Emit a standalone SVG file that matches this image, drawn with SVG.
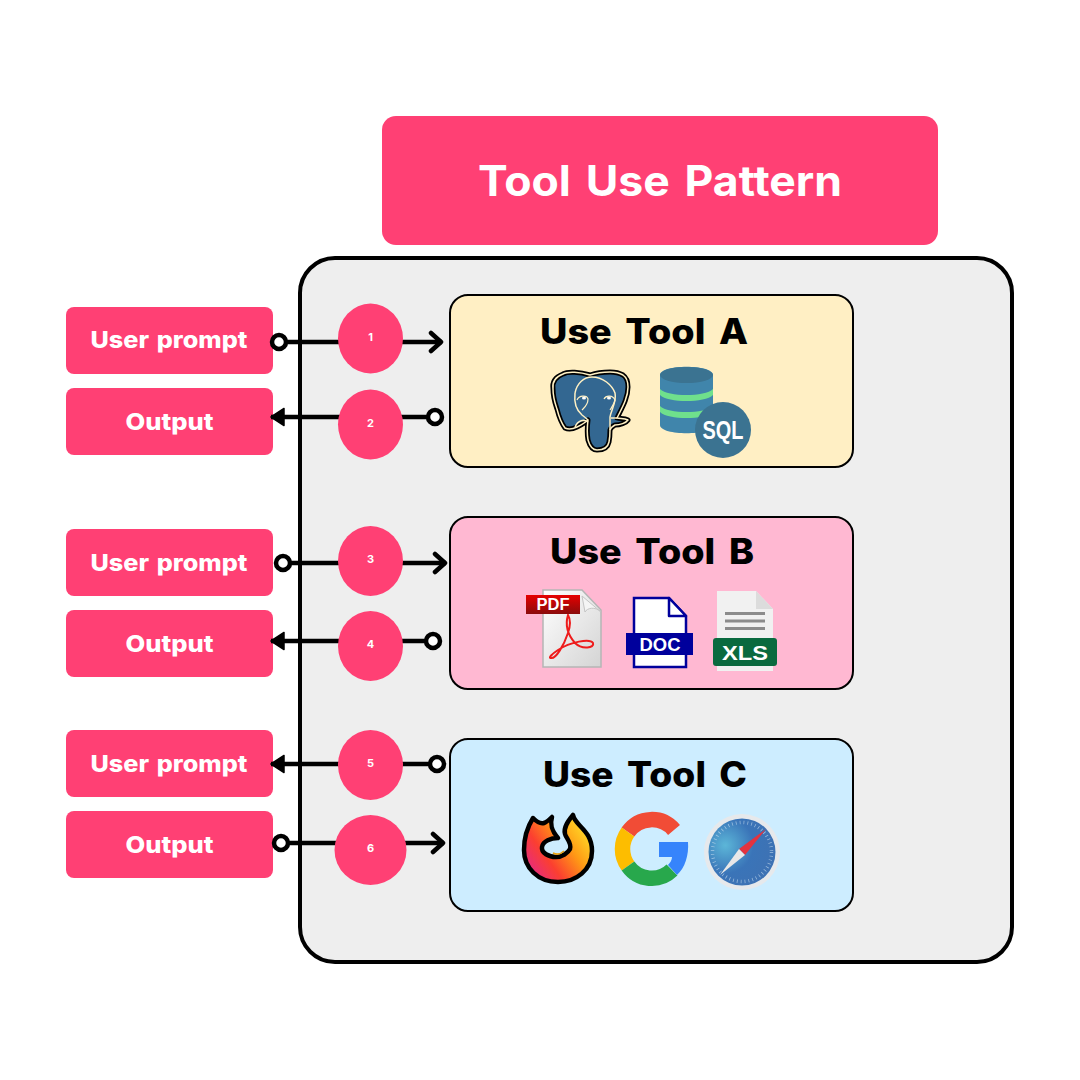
<svg xmlns="http://www.w3.org/2000/svg" width="1080" height="1080" viewBox="0 0 1080 1080">
<defs>
<marker id="open" markerUnits="userSpaceOnUse" markerWidth="20" markerHeight="24" refX="16" refY="12" orient="auto"><path d="M5 3 L15 12 L5 21" fill="none" stroke="#000" stroke-width="4.500" stroke-linecap="round" stroke-linejoin="round"/></marker>
<marker id="solid" markerUnits="userSpaceOnUse" markerWidth="20" markerHeight="24" refX="16" refY="12" orient="auto"><path d="M3 3.500 L16 12 L3 20.500 Z" fill="#000" stroke="#000" stroke-width="1.500" stroke-linejoin="round"/></marker>
<linearGradient id="fox" x1="0" y1="0.900" x2="1" y2="0.200"><stop offset="0" stop-color="#e0249a"/><stop offset="0.350" stop-color="#fb3f30"/><stop offset="0.650" stop-color="#ff9a15"/><stop offset="1" stop-color="#ffe62a"/></linearGradient>
<radialGradient id="saf" cx="0.250" cy="0.400" r="0.700"><stop offset="0" stop-color="#5cb6d8"/><stop offset="0.600" stop-color="#3a74b8"/><stop offset="1" stop-color="#3d72b4"/></radialGradient>
<linearGradient id="pdfdoc" x1="0" y1="0" x2="1" y2="1"><stop offset="0" stop-color="#fff"/><stop offset="1" stop-color="#d4d4d4"/></linearGradient>
<linearGradient id="pdfbar" x1="0" y1="0" x2="0" y2="1"><stop offset="0" stop-color="#e60000"/><stop offset="1" stop-color="#8a0c0c"/></linearGradient>
</defs>
<style>
.pink{fill:#ff4074}
.t{font-family:"Inter","Liberation Sans",sans-serif;text-anchor:middle}
.btn{font-size:23px;font-weight:800;fill:#fff;word-spacing:2px}
.num{font-size:11px;font-weight:700;fill:#fff}
.head{font-size:35px;font-weight:800;fill:#000;word-spacing:5px}
.panel{stroke:#000;stroke-width:2}
.wire{fill:none;stroke:#000;stroke-width:4.500}
.ring{fill:#fff;stroke:#000;stroke-width:4.500}
.ic{font-family:"Liberation Sans",sans-serif;font-weight:700;text-anchor:middle}
</style>

<g id="container"><rect x="300" y="258" width="712" height="704" rx="35" fill="#eeeeee" stroke="#000" stroke-width="4"/></g>

<g id="title"><rect class="pink" x="382" y="116" width="556" height="129" rx="14"/><text class="t" x="660" y="196" font-size="42" font-weight="700" fill="#fff" word-spacing="4" textLength="364" lengthAdjust="spacingAndGlyphs">Tool Use Pattern</text></g>

<g id="tool-a">
<rect class="panel" x="450" y="295" width="403" height="172" rx="18" fill="#ffefc4"/>
<text class="t head" x="644" y="344" textLength="208" lengthAdjust="spacingAndGlyphs">Use Tool A</text>
<g id="postgres-icon">
<path d="M590 375 C580 372 568 371 563 374 C555 377 552 382 553 389 C553 398 555 403 557 409 C559 417 562 424 565 428 C569 430 573 429 577 427 C581 425 585 423 588 420 C587 428 587 434 588 440 C590 447 593 450 597 450 C604 450 608 447 609 442 C610 437 610 433 610 430 C611 427 613 426 615 425 C620 425 626 423 628 420 C624 418 620 419 617 418 C622 408 628 398 628 387 C628 381 626 377 623 375 C618 372 614 372 610 372 C603 372 596 373 590 375 Z" fill="#336791" stroke="#000" stroke-width="5" stroke-linejoin="round"/>
<path d="M590 375 C580 372 568 371 563 374 C555 377 552 382 553 389 C553 398 555 403 557 409 C559 417 562 424 565 428 C569 430 573 429 577 427 C581 425 585 423 588 420 C587 428 587 434 588 440 C590 447 593 450 597 450 C604 450 608 447 609 442 C610 437 610 433 610 430 C611 427 613 426 615 425 C620 425 626 423 628 420 C624 418 620 419 617 418 C622 408 628 398 628 387 C628 381 626 377 623 375 C618 372 614 372 610 372 C603 372 596 373 590 375 Z" fill="none" stroke="#fff1c4" stroke-width="1.500" stroke-linejoin="round"/>
<path d="M575 393 C577 383 584 377 592 377 C603 377 612 385 615 393 M575 393 C574 402 576 410 582 415 C586 418 588 420 588 420 M615 393 C617 402 611 410 610 417 C610 422 610 428 610 430 M575 427 C578 420 584 419 588 422 M611 418 L617 418" fill="none" stroke="#fff1c4" stroke-width="1.500"/>
<path d="M577 400 C579 395 587 395 588 399 C588 405 584 408 582 410 M604 399 C606 395 613 395 615 400 C614 404 612 407 610 410" fill="none" stroke="#fff1c4" stroke-width="1.200"/>
<ellipse cx="584" cy="398" rx="2" ry="1.600" fill="#fff"/><ellipse cx="609" cy="398" rx="2" ry="1.600" fill="#fff"/>
</g>
<g id="sql-icon">
<path d="M660 375 C660 364 713 364 713 375 V425 C713 436 660 436 660 425 Z" fill="#4085ab"/>
<ellipse cx="686.500" cy="375" rx="26.500" ry="8" fill="#3b7391"/>
<path d="M660 389 C668 397 705 397 713 389 V395 C705 403 668 403 660 395 Z M660 406 C668 414 705 414 713 406 V412 C705 420 668 420 660 412 Z" fill="#6fe08c"/>
<circle cx="723" cy="430" r="28" fill="#3b7391"/>
<text class="ic" x="723" y="439" font-size="25" fill="#fff" textLength="41" lengthAdjust="spacingAndGlyphs">SQL</text>
</g>
</g>

<g id="tool-b">
<rect class="panel" x="450" y="517" width="403" height="172" rx="18" fill="#ffb8d2"/>
<text class="t head" x="652" y="564" textLength="204" lengthAdjust="spacingAndGlyphs">Use Tool B</text>
<g id="pdf-icon">
<path d="M543 590 H582 L601 610 V667 H543 Z" fill="url(#pdfdoc)" stroke="#b5b5b5" stroke-width="1.500"/>
<path d="M582 596 L601 612 C595 606 587 608 585 612 Z" fill="#f4f4f4" stroke="#c4c4c4"/>
<path d="M568 615 C565 625 568 635 575 643 C582 650 595 648 593 643 C590 638 570 642 558 650 C552 654 548 658 551 658 C556 659 564 645 568 633 C570 627 571 620 568 615 Z" fill="none" stroke="#ee1c1c" stroke-width="2"/>
<rect x="526" y="595" width="54" height="19" fill="url(#pdfbar)"/>
<text class="ic" x="553" y="610" font-size="16" fill="#fff" textLength="33" lengthAdjust="spacingAndGlyphs">PDF</text>
</g>
<g id="doc-icon">
<path d="M634 598 H669 L686 616 V667 H634 Z" fill="#fff" stroke="#00009c" stroke-width="2.500"/>
<path d="M669 598 V616 H686 Z" fill="#fff" stroke="#00009c" stroke-width="2.500" stroke-linejoin="round"/>
<rect x="626" y="633" width="67" height="22" fill="#00009c"/>
<text class="ic" x="660" y="651" font-size="18" fill="#fff" textLength="41" lengthAdjust="spacingAndGlyphs">DOC</text>
</g>
<g id="xls-icon">
<path d="M717 591 H756 L773 609 V671 H717 Z" fill="#f1f1f1"/>
<path d="M756 591 L773 609 H756 Z" fill="#dcdcdc"/>
<path d="M725 613.500 H765 M725 621 H765 M725 628.500 H765" stroke="#8c8c8c" stroke-width="3"/>
<rect x="713" y="638" width="64" height="28" rx="3" fill="#0a6a3f"/>
<text class="ic" x="745" y="660" font-size="21" fill="#fff" textLength="46" lengthAdjust="spacingAndGlyphs">XLS</text>
</g>
</g>

<g id="tool-c">
<rect class="panel" x="450" y="739" width="403" height="172" rx="18" fill="#cdedff"/>
<text class="t head" x="645" y="787" textLength="204" lengthAdjust="spacingAndGlyphs">Use Tool C</text>
<g id="firefox-icon">
<path d="M533 818 C537 822 541 824 544 823 C547 822 550 819 552 817 C550 824 551 830 558 838 C551 838 543 841 542 847 C541 853 549 857 556 857 C562 857 568 853 570 849 C572 843 566 838 565 834 C563 827 569 820 573 815 C575 826 592 830 592 851 C592 870 576 882 558 882 C538 882 524 868 524 850 C524 838 528 826 533 818 Z" fill="url(#fox)" stroke="#000" stroke-width="4.500" stroke-linejoin="round"/>
<path d="M553 853 C557 855 561 854 564 851" fill="none" stroke="#e8a010" stroke-width="1.500"/>
</g>
<g id="google-icon">
<path d="M674 830 A29 29 0 0 0 628 832" fill="none" stroke="#f14c36" stroke-width="15.500"/>
<path d="M628 832 A29 29 0 0 0 628 866" fill="none" stroke="#fdbd00" stroke-width="15.500"/>
<path d="M628 866 A29 29 0 0 0 672 870" fill="none" stroke="#28a84c" stroke-width="15.500"/>
<path d="M659 842 H688 C689 855 685 868 677 875 L668 865 C670 863 672 860 672 857 H659 Z" fill="#3684fb"/>
</g>
<g id="safari-icon">
<circle cx="742" cy="852" r="38" fill="#e6e9ec"/>
<circle cx="742" cy="852" r="33.500" fill="url(#saf)"/>
<circle cx="742" cy="852" r="29.500" fill="none" stroke="#cfe3f2" stroke-width="3.500" stroke-dasharray="0.700 3.200" opacity="0.700"/>
<path d="M766 829 L739 849 L745 855 Z" fill="#e3333f"/>
<path d="M720 875 L739 849 L745 855 Z" fill="#e8e8e8"/>
</g>
</g>

<g id="input-a"><rect class="pink" x="66" y="307" width="207" height="67" rx="8"/><text class="t btn" x="169" y="348" textLength="157" lengthAdjust="spacingAndGlyphs">User prompt</text></g>
<g id="output-a"><rect class="pink" x="66" y="388" width="207" height="67" rx="8"/><text class="t btn" x="169.500" y="430" textLength="88" lengthAdjust="spacingAndGlyphs">Output</text></g>
<g id="input-b"><rect class="pink" x="66" y="529" width="207" height="67" rx="8"/><text class="t btn" x="169" y="571" textLength="157" lengthAdjust="spacingAndGlyphs">User prompt</text></g>
<g id="output-b"><rect class="pink" x="66" y="610" width="207" height="67" rx="8"/><text class="t btn" x="169.500" y="652" textLength="88" lengthAdjust="spacingAndGlyphs">Output</text></g>
<g id="input-c"><rect class="pink" x="66" y="730" width="207" height="67" rx="8"/><text class="t btn" x="169" y="772" textLength="157" lengthAdjust="spacingAndGlyphs">User prompt</text></g>
<g id="output-c"><rect class="pink" x="66" y="811" width="207" height="67" rx="8"/><text class="t btn" x="169.500" y="853" textLength="88" lengthAdjust="spacingAndGlyphs">Output</text></g>

<g id="connectors">
<path class="wire" d="M286 342 H442" marker-end="url(#open)"/>
<path class="wire" d="M428 417 H271" marker-end="url(#solid)"/>
<path class="wire" d="M290 563 H446" marker-end="url(#open)"/>
<path class="wire" d="M426 641 H271" marker-end="url(#solid)"/>
<path class="wire" d="M430 764 H271" marker-end="url(#solid)"/>
<path class="wire" d="M288 843 H444" marker-end="url(#open)"/>
<circle class="ring" cx="279" cy="342" r="7"/>
<circle class="ring" cx="435" cy="417" r="7"/>
<circle class="ring" cx="283" cy="563" r="7"/>
<circle class="ring" cx="433" cy="641" r="7"/>
<circle class="ring" cx="437" cy="764" r="7"/>
<circle class="ring" cx="281" cy="843" r="7"/>
</g>

<g id="step-1"><ellipse class="pink" cx="370.500" cy="338.500" rx="32.500" ry="35"/><text class="t num" x="370.500" y="341">1</text></g>
<g id="step-2"><ellipse class="pink" cx="370.500" cy="424.500" rx="32.500" ry="35"/><text class="t num" x="370.500" y="427">2</text></g>
<g id="step-3"><ellipse class="pink" cx="370.500" cy="561" rx="32.500" ry="35"/><text class="t num" x="370.500" y="563">3</text></g>
<g id="step-4"><ellipse class="pink" cx="370.500" cy="646" rx="32.500" ry="35"/><text class="t num" x="370.500" y="648">4</text></g>
<g id="step-5"><ellipse class="pink" cx="370.500" cy="765" rx="32.500" ry="35"/><text class="t num" x="370.500" y="767">5</text></g>
<g id="step-6"><ellipse class="pink" cx="370.500" cy="850" rx="36" ry="35"/><text class="t num" x="370.500" y="852">6</text></g>
</svg>
